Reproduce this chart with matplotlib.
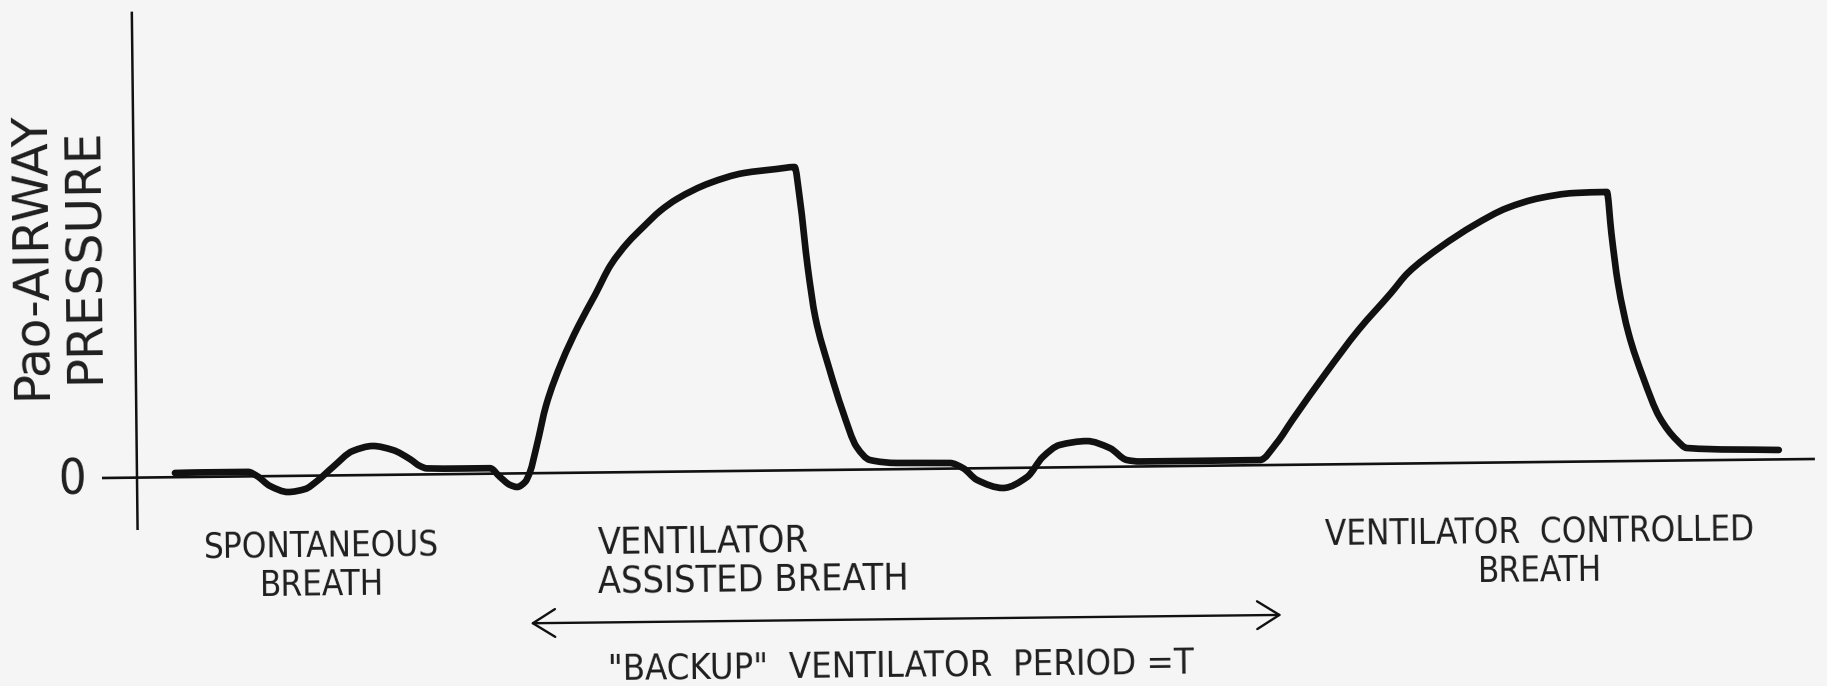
import matplotlib
matplotlib.use("Agg")
import matplotlib.pyplot as plt
from matplotlib import font_manager
from matplotlib.path import Path
from matplotlib.patches import PathPatch
from matplotlib.transforms import Affine2D

# ---------------- data ----------------
# time (arbitrary units) and airway pressure (arbitrary units, 0 = baseline)
time_s = [0.38, 0.63, 1.11, 1.20, 1.33, 1.51, 1.68, 1.80, 1.96, 2.16, 2.36, 2.56,
          2.73, 2.83, 2.90, 3.23, 3.53, 3.63, 3.73, 3.80, 3.88, 3.93, 4.00, 4.10,
          4.26, 4.43, 4.60, 4.76, 4.93, 5.10, 5.26, 5.43, 5.76, 6.10, 6.43, 6.61,
          6.66, 6.73, 6.80, 6.93, 7.06, 7.20, 7.33, 7.60, 8.13, 8.26, 8.40, 8.66,
          8.90, 9.06, 9.23, 9.50, 9.73, 9.90, 10.03, 11.23, 11.40, 11.56, 11.90,
          12.23, 12.56, 12.73, 13.06, 13.40, 13.73, 14.06, 14.40, 14.73, 14.77,
          14.83, 14.93, 15.07, 15.23, 15.40, 15.50, 16.42]
pressure = [0.42, 0.45, 0.45, 0.03, -0.99, -1.61, -1.33, -0.54, 0.84, 2.42, 2.90, 2.48,
            1.56, 0.85, 0.60, 0.55, 0.55, -0.34, -1.15, -1.36, -0.87, 0.12, 2.72, 6.81,
            11.09, 14.67, 17.75, 20.73, 22.91, 24.60, 26.08, 27.26, 28.82, 29.78, 30.15, 30.33,
            27.02, 20.31, 15.31, 10.29, 5.98, 2.26, 0.95, 0.62, 0.56, 0.04, -1.17, -2.00,
            -0.93, 1.06, 2.24, 2.60, 1.88, 0.66, 0.50, 0.51, 2.20, 4.48, 9.14,
            13.40, 17.07, 19.05, 21.61, 23.77, 25.44, 26.40, 26.86, 26.93, 22.82,
            17.82, 12.80, 8.39, 4.37, 2.05, 1.24, 0.94]

zero_tick_label = "0"
ylabel_lines = ["Pao-AIRWAY", "PRESSURE"]
breath_labels = ["SPONTANEOUS\nBREATH",
                 "VENTILATOR\nASSISTED BREATH",
                 "VENTILATOR  CONTROLLED\nBREATH"]
period_label = '"BACKUP"  VENTILATOR  PERIOD =T'
period_start, period_end = 3.92, 11.43

# ---------------- layout / style ----------------
BG = "#f5f5f5"
INK = "#111111"
TXT = "#1e1e1e"
TILT = 0.636            # the scanned page is slightly rotated
XLIM = (-1.37, 16.90)
YLIM = (-20.8, 47.8)
BASE_T = (-0.35, 16.78)
YAX_P = (-5.24, 46.6)

# pick a narrow lettering font if one is installed
_fonts = font_manager.fontManager.ttflist
_names = {f.name for f in _fonts}
if "Liberation Sans Narrow" in _names:
    LFAM, LSTRETCH, LSCALE = ["Liberation Sans Narrow", "DejaVu Sans"], "normal", 1.06
elif any(f.name == "DejaVu Sans" and f.stretch == "condensed" for f in _fonts):
    LFAM, LSTRETCH, LSCALE = ["DejaVu Sans"], "condensed", 1.0
else:
    LFAM, LSTRETCH, LSCALE = ["DejaVu Sans"], "normal", 0.9

fig = plt.figure(figsize=(18.27, 6.86), dpi=100)
fig.patch.set_facecolor(BG)
ax = fig.add_axes([0, 0, 1, 1])
ax.set_xlim(*XLIM)
ax.set_ylim(*YLIM)
ax.axis("off")
ax.set_facecolor(BG)

cx, cy = ax.transData.transform((BASE_T[0], 0.0))
tr = ax.transData + Affine2D().rotate_deg_around(cx, cy, TILT)

# axes lines
ax.plot(list(BASE_T), [0, 0], color=INK, lw=1.9, transform=tr, solid_capstyle="butt")
ax.plot([0, 0], list(YAX_P), color=INK, lw=1.8, transform=tr, solid_capstyle="butt")


# pressure waveform: smooth (monotone cubic) line through the read points
def _pchip_slopes(x, y):
    n = len(x)
    h = [x[i + 1] - x[i] for i in range(n - 1)]
    dl = [(y[i + 1] - y[i]) / h[i] for i in range(n - 1)]
    d = [0.0] * n
    d[0], d[-1] = dl[0], dl[-1]
    for i in range(1, n - 1):
        if dl[i - 1] * dl[i] <= 0:
            d[i] = 0.0
        else:
            w1 = 2 * h[i] + h[i - 1]
            w2 = h[i] + 2 * h[i - 1]
            d[i] = (w1 + w2) / (w1 / dl[i - 1] + w2 / dl[i])
    return d


slopes = _pchip_slopes(time_s, pressure)
verts = [(time_s[0], pressure[0])]
codes = [Path.MOVETO]
for i in range(len(time_s) - 1):
    hh = time_s[i + 1] - time_s[i]
    verts += [(time_s[i] + hh / 3, pressure[i] + slopes[i] * hh / 3),
              (time_s[i + 1] - hh / 3, pressure[i + 1] - slopes[i + 1] * hh / 3),
              (time_s[i + 1], pressure[i + 1])]
    codes += [Path.CURVE4] * 3
ax.add_patch(PathPatch(Path(verts, codes), fill=False, ec=INK, lw=4.8,
                       transform=tr, capstyle="round", joinstyle="round"))

# zero label
ax.text(-0.65, -0.17, zero_tick_label, transform=tr, fontsize=35 * LSCALE, color=TXT,
        ha="center", va="center", rotation=TILT, rotation_mode="anchor",
        family=LFAM, fontstretch=LSTRETCH)

# y label (two lines)
ax.text(-1.04, 22.4, ylabel_lines[0], transform=tr, fontsize=35, color=TXT,
        ha="center", va="center", rotation=90 + TILT, rotation_mode="anchor",
        family=["DejaVu Sans"])
ax.text(-0.50, 22.3, ylabel_lines[1], transform=tr, fontsize=35, color=TXT,
        ha="center", va="center", rotation=90 + TILT, rotation_mode="anchor",
        family=["DejaVu Sans"])

# breath labels
lab_kw = dict(transform=tr, color=TXT, rotation=TILT,
              rotation_mode="anchor", family=LFAM, fontstretch=LSTRETCH)
ax.text(1.84, -9.04, breath_labels[0], fontsize=25 * LSCALE, ha="center", va="center",
        multialignment="center", linespacing=1.2, **lab_kw)
ax.text(4.60, -9.15, breath_labels[1], fontsize=27 * LSCALE, ha="left", va="center",
        multialignment="left", linespacing=1.12, **lab_kw)
ax.text(14.02, -8.94, breath_labels[2], fontsize=25 * LSCALE, ha="center", va="center",
        multialignment="center", linespacing=1.2, **lab_kw)

# backup period arrow
ax.annotate("", xy=(period_end, -15.0), xytext=(period_start, -15.0),
            xycoords=tr, textcoords=tr,
            arrowprops=dict(arrowstyle="<->,head_length=0.8,head_width=0.5",
                            mutation_scale=20, lw=1.7, color=INK,
                            shrinkA=0, shrinkB=0))
ax.text(7.62, -20.7, period_label, fontsize=26 * LSCALE, ha="center", va="baseline",
        **lab_kw)

fig.savefig("out.png", dpi=100, facecolor=fig.get_facecolor())
